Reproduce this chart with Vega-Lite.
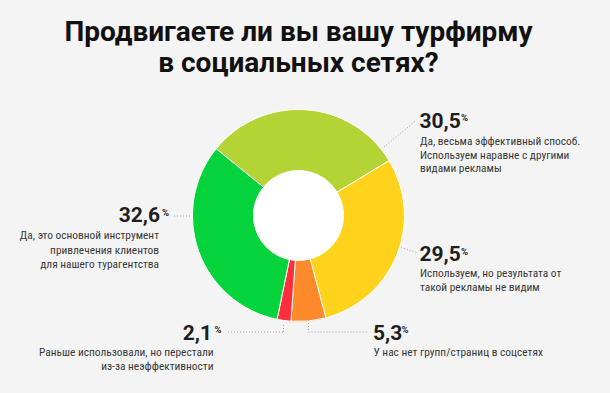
{
  "$schema": "https://vega.github.io/schema/vega-lite/v6.json",
  "width": 597,
  "height": 251,
  "autosize": {"type": "none"},
  "padding": {"left": 0, "top": 90, "right": 13, "bottom": 52},
  "background": "#f4f4f4",
  "title": {
    "text": ["Продвигаете ли вы вашу турфирму", "в социальных сетях?"],
    "font": "Roboto",
    "fontSize": 28,
    "fontWeight": "bold",
    "color": "#111111",
    "lineHeight": 31,
    "anchor": "middle",
    "frame": "group",
    "offset": 12
  },
  "config": {"view": {"stroke": null}},
  "data": {
    "values": [
      {"cat": "Да, весьма эффективный способ", "pct": 30.5, "ord": 1, "label": "30,5", "desc": "Да, весьма эффективный способ.\nИспользуем наравне с другими\nвидами рекламы"},
      {"cat": "Используем, но результата от такой рекламы не видим", "pct": 29.5, "ord": 2, "label": "29,5", "desc": "Используем, но результата от\nтакой рекламы не видим"},
      {"cat": "У нас нет групп/страниц в соцсетях", "pct": 5.3, "ord": 3, "label": "5,3", "desc": "У нас нет групп/страниц в соцсетях"},
      {"cat": "Раньше использовали, но перестали из-за неэффективности", "pct": 2.1, "ord": 4, "label": "2,1", "desc": "Раньше использовали, но перестали\nиз-за неэффективности"},
      {"cat": "Да, это основной инструмент привлечения клиентов для нашего турагентства", "pct": 32.6, "ord": 5, "label": "32,6", "desc": "Да, это основной инструмент\nпривлечения клиентов\nдля нашего турагентства"}
    ]
  },
  "layer": [
    {
      "data": {"values": [{"k": 1}]},
      "mark": {"type": "arc", "radius": 46, "fill": "#ffffff"},
      "encoding": {}
    },
    {
      "mark": {"type": "arc", "radius": 106, "radius2": 45, "stroke": "#ffffff", "strokeWidth": 1},
      "encoding": {
        "theta": {"field": "pct", "type": "quantitative", "stack": true, "scale": {"range": [-0.89, 5.3932]}},
        "order": {"field": "ord", "type": "quantitative"},
        "color": {"field": "ord", "type": "nominal", "legend": null, "scale": {"domain": [1, 2, 3, 4, 5], "range": ["#b4d334", "#ffd21c", "#ff8a2c", "#ff2e3c", "#05d33c"]}}
      }
    },
    {"data": {"values": [{"k": 1}]}, "mark": {"type": "rule", "color": "#a0a0a0", "strokeDash": [1, 2], "strokeWidth": 1},
     "encoding": {"x": {"datum": 384, "type": "quantitative", "scale": {"domain": [0, 597], "nice": false, "zero": false}, "axis": null}, "y": {"datum": 147, "type": "quantitative", "scale": {"domain": [90, 341], "nice": false, "zero": false, "reverse": true}, "axis": null}, "x2": {"datum": 416.5}, "y2": {"datum": 120}}},
    {"data": {"values": [{"k": 1}]}, "mark": {"type": "rule", "color": "#a0a0a0", "strokeDash": [1, 2], "strokeWidth": 1},
     "encoding": {"x": {"datum": 401, "type": "quantitative", "axis": null}, "y": {"datum": 247.5, "type": "quantitative", "axis": null}, "x2": {"datum": 417}, "y2": {"datum": 252.5}}},
    {"data": {"values": [{"k": 1}]}, "mark": {"type": "rule", "color": "#a0a0a0", "strokeDash": [1, 2], "strokeWidth": 1},
     "encoding": {"x": {"datum": 174, "type": "quantitative", "axis": null}, "y": {"datum": 216, "type": "quantitative", "axis": null}, "x2": {"datum": 191}, "y2": {"datum": 216}}},
    {"data": {"values": [{"k": 1}]}, "mark": {"type": "rule", "color": "#a0a0a0", "strokeDash": [1, 2], "strokeWidth": 1},
     "encoding": {"x": {"datum": 228, "type": "quantitative", "axis": null}, "y": {"datum": 332, "type": "quantitative", "axis": null}, "x2": {"datum": 283.5}, "y2": {"datum": 332}}},
    {"data": {"values": [{"k": 1}]}, "mark": {"type": "rule", "color": "#a0a0a0", "strokeDash": [1, 2], "strokeWidth": 1},
     "encoding": {"x": {"datum": 283.5, "type": "quantitative", "axis": null}, "y": {"datum": 332, "type": "quantitative", "axis": null}, "x2": {"datum": 283.5}, "y2": {"datum": 323}}},
    {"data": {"values": [{"k": 1}]}, "mark": {"type": "rule", "color": "#a0a0a0", "strokeDash": [1, 2], "strokeWidth": 1},
     "encoding": {"x": {"datum": 308.5, "type": "quantitative", "axis": null}, "y": {"datum": 323, "type": "quantitative", "axis": null}, "x2": {"datum": 308.5}, "y2": {"datum": 332}}},
    {"data": {"values": [{"k": 1}]}, "mark": {"type": "rule", "color": "#a0a0a0", "strokeDash": [1, 2], "strokeWidth": 1},
     "encoding": {"x": {"datum": 308.5, "type": "quantitative", "axis": null}, "y": {"datum": 332, "type": "quantitative", "axis": null}, "x2": {"datum": 367}, "y2": {"datum": 332}}},

    {"transform": [{"filter": "datum.ord == 1"}], "mark": {"type": "text", "align": "left", "baseline": "alphabetic", "font": "Roboto", "fontSize": 21, "fontWeight": "bold", "color": "#1e1e1e"},
     "encoding": {"x": {"datum": 419.5, "type": "quantitative", "axis": null}, "y": {"datum": 127.5, "type": "quantitative", "axis": null}, "text": {"field": "label"}}},
    {"transform": [{"filter": "datum.ord == 2"}], "mark": {"type": "text", "align": "left", "baseline": "alphabetic", "font": "Roboto", "fontSize": 21, "fontWeight": "bold", "color": "#1e1e1e"},
     "encoding": {"x": {"datum": 419.5, "type": "quantitative", "axis": null}, "y": {"datum": 261, "type": "quantitative", "axis": null}, "text": {"field": "label"}}},
    {"transform": [{"filter": "datum.ord == 3"}], "mark": {"type": "text", "align": "left", "baseline": "alphabetic", "font": "Roboto", "fontSize": 21, "fontWeight": "bold", "color": "#1e1e1e"},
     "encoding": {"x": {"datum": 373, "type": "quantitative", "axis": null}, "y": {"datum": 339.5, "type": "quantitative", "axis": null}, "text": {"field": "label"}}},
    {"transform": [{"filter": "datum.ord == 4"}], "mark": {"type": "text", "align": "right", "baseline": "alphabetic", "font": "Roboto", "fontSize": 21, "fontWeight": "bold", "color": "#1e1e1e"},
     "encoding": {"x": {"datum": 212, "type": "quantitative", "axis": null}, "y": {"datum": 339.5, "type": "quantitative", "axis": null}, "text": {"field": "label"}}},
    {"transform": [{"filter": "datum.ord == 5"}], "mark": {"type": "text", "align": "right", "baseline": "alphabetic", "font": "Roboto", "fontSize": 21, "fontWeight": "bold", "color": "#1e1e1e"},
     "encoding": {"x": {"datum": 160, "type": "quantitative", "axis": null}, "y": {"datum": 222.3, "type": "quantitative", "axis": null}, "text": {"field": "label"}}},

    {"transform": [{"filter": "datum.ord == 1"}], "mark": {"type": "text", "align": "left", "baseline": "alphabetic", "font": "Roboto", "fontSize": 9.5, "fontWeight": "bold", "color": "#1e1e1e", "text": "%"},
     "encoding": {"x": {"datum": 461, "type": "quantitative", "axis": null}, "y": {"datum": 121, "type": "quantitative", "axis": null}}},
    {"transform": [{"filter": "datum.ord == 2"}], "mark": {"type": "text", "align": "left", "baseline": "alphabetic", "font": "Roboto", "fontSize": 9.5, "fontWeight": "bold", "color": "#1e1e1e", "text": "%"},
     "encoding": {"x": {"datum": 461, "type": "quantitative", "axis": null}, "y": {"datum": 255, "type": "quantitative", "axis": null}}},
    {"transform": [{"filter": "datum.ord == 3"}], "mark": {"type": "text", "align": "left", "baseline": "alphabetic", "font": "Roboto", "fontSize": 9.5, "fontWeight": "bold", "color": "#1e1e1e", "text": "%"},
     "encoding": {"x": {"datum": 401.5, "type": "quantitative", "axis": null}, "y": {"datum": 332.5, "type": "quantitative", "axis": null}}},
    {"transform": [{"filter": "datum.ord == 4"}], "mark": {"type": "text", "align": "left", "baseline": "alphabetic", "font": "Roboto", "fontSize": 9.5, "fontWeight": "bold", "color": "#1e1e1e", "text": "%"},
     "encoding": {"x": {"datum": 214.5, "type": "quantitative", "axis": null}, "y": {"datum": 333, "type": "quantitative", "axis": null}}},
    {"transform": [{"filter": "datum.ord == 5"}], "mark": {"type": "text", "align": "left", "baseline": "alphabetic", "font": "Roboto", "fontSize": 9.5, "fontWeight": "bold", "color": "#1e1e1e", "text": "%"},
     "encoding": {"x": {"datum": 162, "type": "quantitative", "axis": null}, "y": {"datum": 216, "type": "quantitative", "axis": null}}},

    {"transform": [{"filter": "datum.ord == 1"}], "mark": {"type": "text", "align": "left", "baseline": "alphabetic", "font": "Liberation Sans Narrow, Roboto Condensed, Roboto", "fontSize": 11.4, "color": "#383838", "lineBreak": "\n", "lineHeight": 13.5},
     "encoding": {"x": {"datum": 420, "type": "quantitative", "axis": null}, "y": {"datum": 145, "type": "quantitative", "axis": null}, "text": {"field": "desc"}}},
    {"transform": [{"filter": "datum.ord == 2"}], "mark": {"type": "text", "align": "left", "baseline": "alphabetic", "font": "Liberation Sans Narrow, Roboto Condensed, Roboto", "fontSize": 11.4, "color": "#383838", "lineBreak": "\n", "lineHeight": 13.5},
     "encoding": {"x": {"datum": 420, "type": "quantitative", "axis": null}, "y": {"datum": 277, "type": "quantitative", "axis": null}, "text": {"field": "desc"}}},
    {"transform": [{"filter": "datum.ord == 3"}], "mark": {"type": "text", "align": "left", "baseline": "alphabetic", "font": "Liberation Sans Narrow, Roboto Condensed, Roboto", "fontSize": 11.4, "color": "#383838", "lineBreak": "\n", "lineHeight": 13.5},
     "encoding": {"x": {"datum": 373.5, "type": "quantitative", "axis": null}, "y": {"datum": 356, "type": "quantitative", "axis": null}, "text": {"field": "desc"}}},
    {"transform": [{"filter": "datum.ord == 4"}], "mark": {"type": "text", "align": "right", "baseline": "alphabetic", "font": "Liberation Sans Narrow, Roboto Condensed, Roboto", "fontSize": 11.4, "color": "#383838", "lineBreak": "\n", "lineHeight": 13.5},
     "encoding": {"x": {"datum": 213.5, "type": "quantitative", "axis": null}, "y": {"datum": 356, "type": "quantitative", "axis": null}, "text": {"field": "desc"}}},
    {"transform": [{"filter": "datum.ord == 5"}], "mark": {"type": "text", "align": "right", "baseline": "alphabetic", "font": "Liberation Sans Narrow, Roboto Condensed, Roboto", "fontSize": 11.4, "color": "#383838", "lineBreak": "\n", "lineHeight": 14.5},
     "encoding": {"x": {"datum": 159, "type": "quantitative", "axis": null}, "y": {"datum": 239, "type": "quantitative", "axis": null}, "text": {"field": "desc"}}}
  ]
}
